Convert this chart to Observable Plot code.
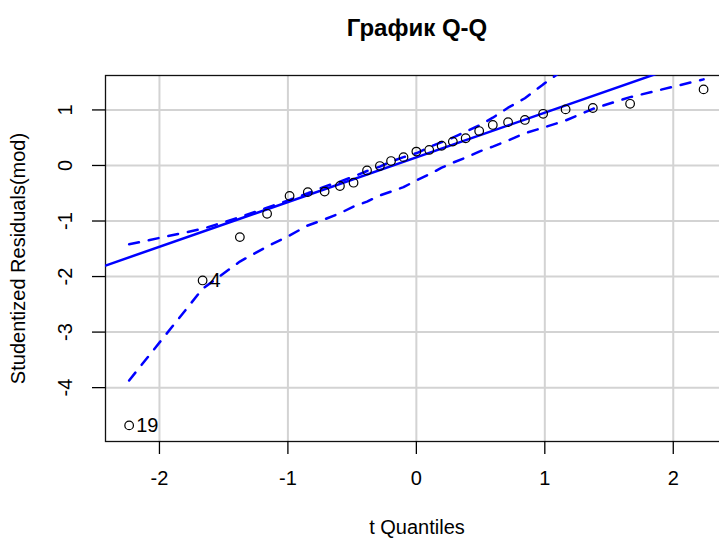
<!DOCTYPE html>
<html><head><meta charset="utf-8">
<script src="https://cdn.jsdelivr.net/npm/d3@7"></script>
<script src="https://cdn.jsdelivr.net/npm/@observablehq/plot@0.6"></script>
<style>
html,body{margin:0;padding:0;background:#fff;overflow:hidden}
#chart{width:719px;height:538px;overflow:hidden}
#chart svg{max-width:none !important}
</style></head><body><div id="chart"></div>
<script>
// t quantiles (x) of the 27 sorted studentized residuals
const tQuantiles = [-2.236, -1.664, -1.374, -1.162, -0.987, -0.845, -0.714, -0.595, -0.489, -0.384, -0.284, -0.197, -0.10,
  0, 0.10, 0.197, 0.284, 0.384, 0.489, 0.595, 0.714, 0.845, 0.987, 1.162, 1.374, 1.664, 2.236];
// sorted studentized residuals (y)
const residuals = [-4.68, -2.07, -1.29, -0.87, -0.55, -0.48, -0.47, -0.37, -0.31, -0.09, -0.01, 0.08, 0.15,
  0.25, 0.28, 0.355, 0.43, 0.49, 0.62, 0.73, 0.78, 0.82, 0.93, 1.01, 1.035, 1.11, 1.37];
// pointwise confidence envelope
const envelopeLower = [-3.87, -2.22, -1.73, -1.46, -1.26, -1.08, -0.97, -0.86, -0.74, -0.65, -0.54, -0.47, -0.39,
  -0.27, -0.16, -0.04, 0.05, 0.14, 0.25, 0.34, 0.45, 0.58, 0.68, 0.81, 1.02, 1.23, 1.55];
const envelopeUpper = [-1.42, -1.14, -0.93, -0.76, -0.62, -0.50, -0.38, -0.29, -0.20, -0.10, -0.02, 0.07, 0.15,
  0.22, 0.33, 0.42, 0.50, 0.61, 0.72, 0.86, 1.04, 1.21, 1.46, 1.75, 2.05, 2.45, 3.2];
// identified points (index into the sorted arrays) and their labels
const labelIndex = [0, 1];
const labelText = ["19", "4"];
// robust reference line
const lineIntercept = 0.146;
const lineSlope = 0.805;
// axes
const xTicks = [-2, -1, 0, 1, 2];
const yTicks = [-4, -3, -2, -1, 0, 1];
const xDomain = [-2.42, 2.43];
const yDomain = [-4.97, 1.62];

const data = tQuantiles.map((q, i) => ({q, r: residuals[i], lo: envelopeLower[i], hi: envelopeUpper[i]}));
const fit = xDomain.map(q => ({q, r: lineIntercept + lineSlope * q}));
const labeled = labelIndex.map((k, j) => ({q: tQuantiles[k], r: residuals[k], t: labelText[j]}));

const font = "'Liberation Sans', Arial, sans-serif";
const chart = Plot.plot({
  width: 728, height: 538,
  marginLeft: 105, marginRight: 0, marginTop: 75, marginBottom: 97,
  style: {fontFamily: font, fontSize: "20px", color: "black", background: "white", maxWidth: "none"},
  x: {domain: xDomain},
  y: {domain: yDomain},
  marks: [
    Plot.gridX(xTicks, {stroke: "#d3d3d3", strokeOpacity: 1, strokeWidth: 2}),
    Plot.gridY(yTicks, {stroke: "#d3d3d3", strokeOpacity: 1, strokeWidth: 2}),
    Plot.frame({stroke: "#111", strokeWidth: 1.3}),
    Plot.axisX({ticks: xTicks, tickSize: 13, tickPadding: 16, fontSize: 20, label: null, tickFormat: d => String(d), strokeWidth: 1.3}),
    Plot.axisY({ticks: yTicks, tickSize: 13, tickRotate: -90, tickPadding: 21, fontSize: 20, label: null, tickFormat: d => String(d), strokeWidth: 1.3}),
    Plot.line(fit, {x: "q", y: "r", stroke: "#0000ff", strokeWidth: 2.5, clip: true}),
    Plot.line(data, {x: "q", y: "hi", stroke: "#0000ff", strokeWidth: 2.5, strokeDasharray: "10,10", clip: true}),
    Plot.line(data, {x: "q", y: "lo", stroke: "#0000ff", strokeWidth: 2.5, strokeDasharray: "10,10", clip: true}),
    Plot.dot(data, {x: "q", y: "r", r: 4.3, stroke: "black", strokeWidth: 1.2, fill: "none"}),
    Plot.text(labeled, {x: "q", y: "r", text: "t", textAnchor: "start", dx: 7, fontSize: 20, fill: "black"}),
    Plot.text(["График Q-Q"], {text: d => d, frameAnchor: "top", textAnchor: "middle", lineAnchor: "middle", dy: -47, fontSize: 24, fontWeight: "bold", fill: "black"}),
    Plot.text(["t Quantiles"], {text: d => d, frameAnchor: "bottom", textAnchor: "middle", lineAnchor: "middle", dy: 86, fontSize: 20, fill: "black"}),
    Plot.text(["Studentized Residuals(mod)"], {text: d => d, frameAnchor: "left", textAnchor: "middle", lineAnchor: "middle", dx: -87, rotate: -90, fontSize: 20, fill: "black"})
  ]
});
document.getElementById("chart").appendChild(chart);
</script>
</body></html>
